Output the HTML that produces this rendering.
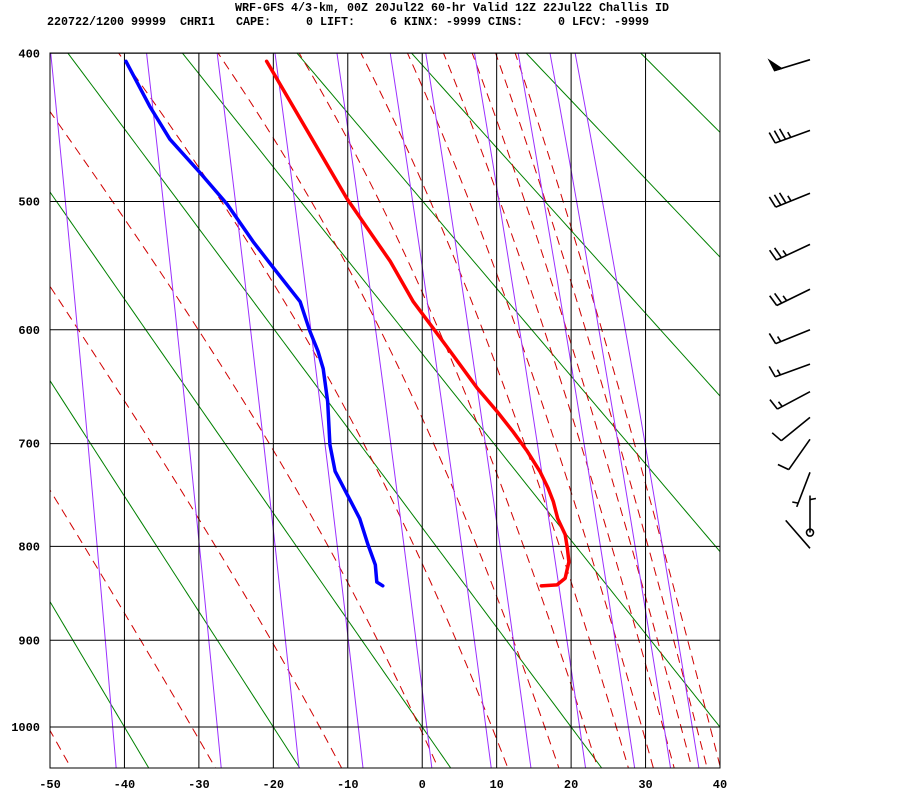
<!DOCTYPE html>
<html><head><meta charset="utf-8"><style>
html,body{margin:0;padding:0;background:#fff;}
svg{display:block;}
text{font-family:"Liberation Mono",monospace;font-weight:bold;fill:#000;}
</style></head><body>
<svg id="chart" width="900" height="800" xmlns="http://www.w3.org/2000/svg">
<defs><clipPath id="plotclip"><rect x="50" y="53" width="670" height="715"/></clipPath></defs>
<text x="235" y="11" font-size="11.7" textLength="434" xml:space="preserve">WRF-GFS 4/3-km, 00Z 20Jul22 60-hr Valid 12Z 22Jul22 Challis ID</text>
<text x="47" y="25" font-size="11.7" textLength="602" xml:space="preserve">220722/1200 99999  CHRI1   CAPE:     0 LIFT:     6 KINX: -9999 CINS:     0 LFCV: -9999</text>
<g id="bg" clip-path="url(#plotclip)"></g>
<g id="grid"></g>
<g id="curves" clip-path="url(#plotclip)"></g>
<g id="labels"></g>
<g id="barbs"></g>
</svg>
<script>
// ---- data ----
const tempP = [405,498,545,577,599,621,650,671,689,707,726,742,755,772,788,802,816,833,840,841];
const tempT = [-20.9,-10.1,-4.3,-1.2,1.5,4.1,7.4,10.1,12.2,14.1,15.8,16.9,17.6,18.2,19.2,19.5,19.7,19.2,18.1,16.0];
const dewP = [405,434,456,479,502,530,550,577,601,618,633,662,701,726,748,772,798,819,837,841];
const dewT = [-39.8,-36.6,-33.9,-29.9,-26.2,-22.7,-20.0,-16.4,-15.1,-14.0,-13.3,-12.7,-12.4,-11.7,-10.1,-8.4,-7.3,-6.3,-6.1,-5.3];
const windP = [404,450,494,532,567,600,629,653,676,696,727,786,802];
const windDir = [253,250,248,245,244,248,250,242,231,215,201,0,319];
const windSpd = [50,35,35,25,25,15,15,15,10,10,5,5,0];
const pLevels = [400,500,600,700,800,900,1000];
const tTicks = [-50,-40,-30,-20,-10,0,10,20,30,40];
const thetaList = [-60,-40,-20,0,20,40,60,80,100,120,140,160];
const mixList = [0.1,0.4,1,2,4,7,10,16,24,32,40];
const thetaEList = [183,203,223,243,263,283,303,323,343,363,383,403,423,443,463];

// ---- axes ----
const X0=50, X1=720, Y0=53, Y1=768, TMIN=-50, TMAX=40;
function xOf(t){return X0+(t-TMIN)*(X1-X0)/(TMAX-TMIN);}
function yOf(p){return -2195.6+405.3*Math.pow(p,0.286);}
const NS='http://www.w3.org/2000/svg';
function mk(tag,attrs,parent){const e=document.createElementNS(NS,tag);for(const k in attrs)e.setAttribute(k,attrs[k]);parent.appendChild(e);return e;}
const bg=document.getElementById('bg'),grid=document.getElementById('grid'),curves=document.getElementById('curves'),labels=document.getElementById('labels'),barbs=document.getElementById('barbs');
const pPath=[];for(let p=390;p<=1060;p+=5)pPath.push(p);
function pathFrom(fn){return pPath.map((p,i)=>(i?'L':'M')+xOf(fn(p)).toFixed(2)+','+yOf(p).toFixed(2)).join('');}

// dry adiabats
thetaList.forEach(th=>{
  const el=mk('path',{d:pathFrom(p=>(th+273.15)*Math.pow(p/1000,0.286)-273.15),stroke:'#008000','stroke-width':1,fill:'none'},bg);
  
  
});
// moist adiabats
function es(t){return 6.112*Math.exp(17.67*t/(t+243.5));}
function thetaE(t,p){const r=622*es(t)/(p-es(t));const T=t+273.15;return T*Math.pow(1000/p,0.286)*Math.exp((3.376/T-0.00254)*r*(1+0.00081*r));}
function moistT(te,p){let lo=-120,hi=60;for(let i=0;i<50;i++){const m=(lo+hi)/2;if(thetaE(m,p)>te)hi=m;else lo=m;}return (lo+hi)/2;}
thetaEList.forEach(te=>{
  const el=mk('path',{d:pathFrom(p=>moistT(te,p)),stroke:'#d00000','stroke-width':1,fill:'none','stroke-dasharray':'9 6'},bg);
  
  
});
// mixing ratio lines
mixList.forEach(w=>{
  const el=mk('path',{d:pathFrom(p=>{const e=w*p/(622+w);const l=Math.log(e/6.112);return 243.5*l/(17.67-l);}),stroke:'#9b30ff','stroke-width':1,fill:'none'},bg);
  
  
});
// grid
tTicks.forEach(t=>{
  const el=mk('line',{x1:xOf(t),x2:xOf(t),y1:Y0,y2:Y1,stroke:'#000','stroke-width':1},grid);
  
  
  const lb=mk('text',{x:xOf(t),y:788,'font-size':12,'text-anchor':'middle'},labels);
  lb.textContent=String(t);
  
  
});
pLevels.forEach(p=>{
  const el=mk('line',{x1:X0,x2:X1,y1:yOf(p),y2:yOf(p),stroke:'#000','stroke-width':1},grid);
  
  
  const lb=mk('text',{x:40,y:yOf(p)+4,'font-size':12,'text-anchor':'end'},labels);
  lb.textContent=String(p);
  
  
});
const frame=mk('rect',{x:X0,y:Y0,width:X1-X0,height:Y1-Y0,fill:'none',stroke:'#000','stroke-width':1},grid);


// sounding curves
function curve(P,T,color,name){
  const d=P.map((p,i)=>(i?'L':'M')+xOf(T[i]).toFixed(2)+','+yOf(p).toFixed(2)).join('');
  const el=mk('path',{d:d,stroke:color,'stroke-width':3.5,fill:'none','stroke-linejoin':'round','stroke-linecap':'round'},curves);
  
  
}
curve(tempP,tempT,'#ff0000','temperature-profile');
curve(dewP,dewT,'#0000ff','dewpoint-profile');
// wind barbs
windP.forEach((p,i)=>{
  const g=mk('g',{stroke:'#000','stroke-width':1.6,fill:'#000'},barbs);
  
  
  const sx=810,sy=yOf(p),L=37;
  const a=windDir[i]*Math.PI/180;
  const ux=Math.sin(a),uy=-Math.cos(a);
  const ex=sx+ux*L,ey=sy+uy*L;
  mk('line',{x1:sx,y1:sy,x2:ex,y2:ey},g);
  const rot=80*Math.PI/180;
  const tx=ux*Math.cos(rot)-uy*Math.sin(rot),ty=ux*Math.sin(rot)+uy*Math.cos(rot);
  let spd=windSpd[i],pos=0;
  while(spd>=50){
    const bx=ex-ux*pos,by=ey-uy*pos;
    mk('polygon',{points:`${bx},${by} ${bx-ux*7},${by-uy*7} ${bx+tx*11},${by+ty*11}`},g);
    pos+=9;spd-=50;
  }
  while(spd>=10){
    const bx=ex-ux*pos,by=ey-uy*pos;
    mk('line',{x1:bx,y1:by,x2:bx+tx*12,y2:by+ty*12},g);
    pos+=5.5;spd-=10;
  }
  if(spd>=5){
    if(pos===0)pos=4;
    const bx=ex-ux*pos,by=ey-uy*pos;
    mk('line',{x1:bx,y1:by,x2:bx+tx*6,y2:by+ty*6},g);
  }
  if(windDir[i]===0){mk('circle',{cx:sx,cy:sy,r:3.5,fill:'none'},g);}
});
</script>
</body></html>
